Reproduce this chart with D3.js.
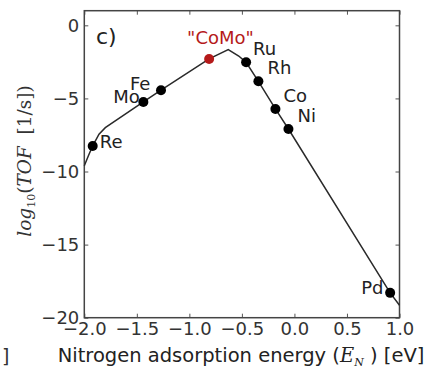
<!DOCTYPE html>
<html><head><meta charset="utf-8">
<script src="https://cdn.jsdelivr.net/npm/d3@7"></script>
<style>body{margin:0;background:#fff}svg{display:block}text{font-family:"DejaVu Sans",sans-serif}</style>
</head><body>
<svg id="c" width="432" height="369"></svg>
<script>
// data
const metals = ["Re","Mo","Fe","\"CoMo\"","Ru","Rh","Co","Ni","Pd"];
const metalE = [-1.92,-1.438,-1.27,-0.812,-0.46,-0.343,-0.181,-0.057,0.911];
const metalTOF = [-8.25,-5.24,-4.44,-2.30,-2.53,-3.83,-5.72,-7.09,-18.3];
const curveE = [-2.0,-1.96,-1.92,-1.86,-1.80,-1.438,-1.27,-0.812,-0.63,-0.53,-0.46,-0.343,-0.181,-0.057,0.911,1.0];
const curveTOF = [-9.6,-8.9,-8.25,-7.45,-7.0,-5.24,-4.44,-2.30,-1.66,-2.1,-2.53,-3.83,-5.72,-7.09,-18.3,-19.15];
const xTicks = [-2.0,-1.5,-1.0,-0.5,0.0,0.5,1.0];
const yTicks = [0,-5,-10,-15,-20];

const svg = d3.select("#c");
const L=84.3,R=399.5,T=10.7,B=317.7;
const x = d3.scaleLinear().domain([-2,1]).range([L,R]);
const y = d3.scaleLinear().domain([-20,1]).range([B,T]);
const ink="#2a2a2a";
const fmt = v => (v<0?"\u2212":"")+Math.abs(v).toFixed(1);
const fmtY = v => (v<0?"\u2212":"")+Math.abs(v);

// axes (ticks inside)
const ax = svg.append("g");
ax.append("g").attr("transform",`translate(0,${B})`)
  .call(d3.axisBottom(x).tickValues(xTicks).tickFormat(fmt).tickSizeInner(-4).tickSizeOuter(0).tickPadding(5));
ax.append("g").attr("transform",`translate(0,${T})`)
  .call(d3.axisTop(x).tickValues(xTicks).tickFormat("").tickSizeInner(-4).tickSizeOuter(0));
ax.append("g").attr("transform",`translate(${L},0)`)
  .call(d3.axisLeft(y).tickValues(yTicks).tickFormat(fmtY).tickSizeInner(-4).tickSizeOuter(0).tickPadding(5));
ax.append("g").attr("transform",`translate(${R},0)`)
  .call(d3.axisRight(y).tickValues(yTicks).tickFormat("").tickSizeInner(-4).tickSizeOuter(0));
ax.selectAll(".domain").remove();
ax.selectAll(".tick line").attr("stroke","#555").attr("stroke-width",1);
ax.selectAll(".tick text").attr("fill","#333").style("font-size","18px");

svg.append("rect").attr("x",L).attr("y",T).attr("width",R-L).attr("height",B-T)
  .attr("fill","none").attr("stroke","#444").attr("stroke-width",1.5);

// curve
const pts = curveE.map((e,i)=>[e,curveTOF[i]]);
svg.append("path").datum(pts)
  .attr("d",d3.line().x(d=>x(d[0])).y(d=>y(d[1])))
  .attr("fill","none").attr("stroke",ink).attr("stroke-width",1.5);

// points
svg.selectAll("circle.m").data(metals).join("circle")
  .attr("cx",(d,i)=>x(metalE[i])).attr("cy",(d,i)=>y(metalTOF[i])).attr("r",5)
  .attr("fill",d=>d==="\"CoMo\""?"#b51a1a":"#000");

// labels
const offs = {"Re":[7,2],"Mo":[-30,1],"Fe":[-31,0],"\"CoMo\"":[-22,-15],"Ru":[7,-7],"Rh":[9,-7],"Co":[8,-7],"Ni":[9,-7],"Pd":[-29,1]};
svg.selectAll("text.lab").data(metals).join("text")
  .attr("x",(d,i)=>x(metalE[i])+offs[d][0]).attr("y",(d,i)=>y(metalTOF[i])+offs[d][1])
  .attr("fill",d=>d==="\"CoMo\""?"#b51a1a":"#222").style("font-size","18px")
  .text(d=>d);

svg.append("text").attr("x",96).attr("y",44).attr("fill","#222").style("font-size","22px").text("c)");

// axis labels
const xl = svg.append("text").attr("x",241).attr("y",362).attr("text-anchor","middle").attr("fill","#222").style("font-size","19.5px");
xl.append("tspan").text("Nitrogen adsorption energy (");
xl.append("tspan").style("font-family","DejaVu Serif").style("font-style","italic").text("E");
xl.append("tspan").attr("dy",4).style("font-size","11px").style("font-family","DejaVu Serif").style("font-style","italic").text("N");
xl.append("tspan").attr("dy",-4).text("\u00a0) [eV]");

const yl = svg.append("text").attr("transform","translate(31,161) rotate(-90)").attr("text-anchor","middle")
  .attr("fill","#333").style("font-size","18.5px").style("font-family","DejaVu Serif");
yl.append("tspan").style("font-style","italic").text("log");
yl.append("tspan").attr("dy",4).style("font-size","11px").text("10");
yl.append("tspan").attr("dy",-4).text("(");
yl.append("tspan").style("font-style","italic").text("TOF");
yl.append("tspan").text("\u00a0\u00a0[1/s])");

svg.append("text").attr("x",2).attr("y",363).attr("fill","#333").style("font-size","19px").text("]");
</script>
</body></html>
